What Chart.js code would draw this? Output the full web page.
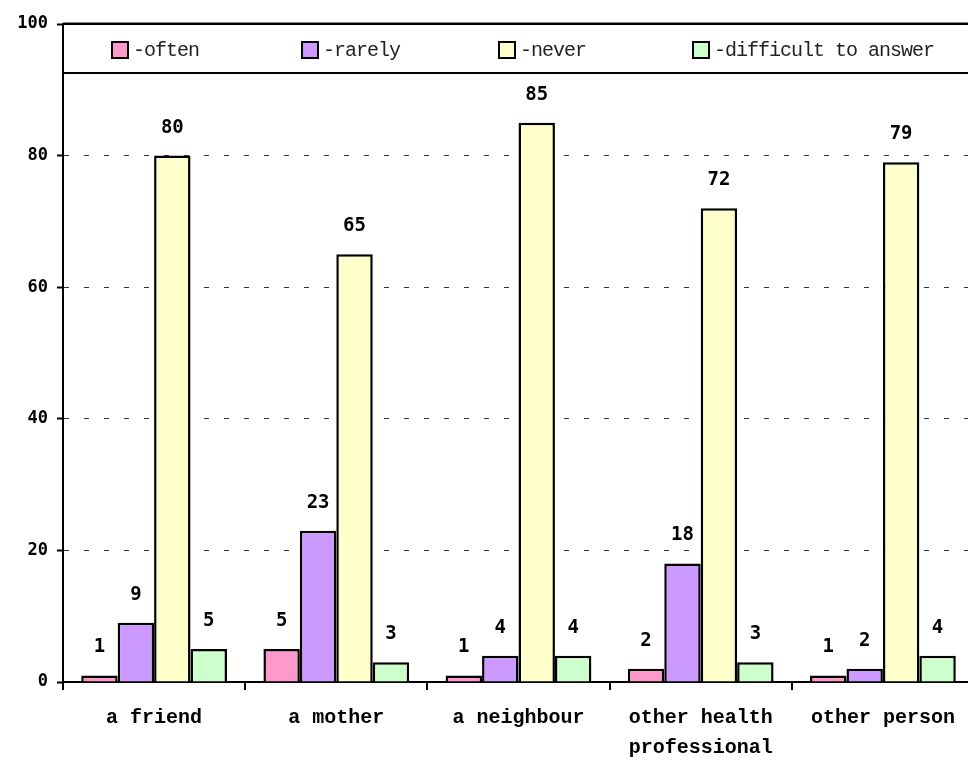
<!DOCTYPE html>
<html>
<head>
<meta charset="utf-8">
<script src="https://cdn.jsdelivr.net/npm/chart.js@4"></script>
<style>
  body { margin: 0; overflow: hidden; background: #fff; }
  canvas { display: block; }
</style>
</head>
<body>
<canvas id="myChart" width="976" height="761"></canvas>
<script>
//data
var categories = ['a friend', 'a mother', 'a neighbour', ['other health', 'professional'], 'other person'];
var seriesNames = ['-often', '-rarely', '-never', '-difficult to answer'];
var often = [1, 5, 1, 2, 1];
var rarely = [9, 23, 4, 18, 2];
var never = [80, 65, 85, 72, 79];
var difficult = [5, 3, 4, 3, 4];
var yTicks = [0, 20, 40, 60, 80, 100];

var colors = ['#FF99CC', '#CC99FF', '#FFFFCC', '#CCFFCC'];
var seriesValues = [often, rarely, never, difficult];

//values above the bars
const valueLabels = {
    id: 'valueLabels',
    afterDatasetsDraw(chart) {
        const ctx = chart.ctx;
        ctx.save();
        ctx.font = 'bold 19px "DejaVu Sans Mono"';
        ctx.fillStyle = '#000';
        ctx.textAlign = 'center';
        ctx.textBaseline = 'middle';
        chart.data.datasets.forEach((ds, i) => {
            chart.getDatasetMeta(i).data.forEach((bar, j) => {
                ctx.fillText(ds.data[j], bar.x, bar.y - 28);
            });
        });
        ctx.restore();
    }
};

//legend box sitting on top of the plot area
const boxLegend = {
    id: 'boxLegend',
    afterDraw(chart) {
        const ctx = chart.ctx;
        const area = chart.chartArea;
        const top = area.top;
        const h = 49;
        ctx.save();
        ctx.fillStyle = '#fff';
        ctx.fillRect(area.left, top, chart.width - area.left + 5, h);
        ctx.strokeStyle = '#000';
        ctx.lineWidth = 2;
        ctx.strokeRect(area.left, top, chart.width - area.left + 10, h);
        ctx.strokeStyle = '#888';
        ctx.lineWidth = 1;
        ctx.beginPath();
        ctx.moveTo(area.left, top - 1.5);
        ctx.lineTo(chart.width, top - 1.5);
        ctx.stroke();

        ctx.font = '20px "Liberation Mono"';
        ctx.letterSpacing = '-1px';
        ctx.textBaseline = 'middle';
        ctx.textAlign = 'left';
        const xs = [49, 239, 436, 630];
        chart.data.datasets.forEach((ds, i) => {
            const x = area.left + xs[i];
            const y = top + 18;
            ctx.fillStyle = ds.backgroundColor;
            ctx.fillRect(x, y, 16, 16);
            ctx.strokeStyle = '#000';
            ctx.lineWidth = 2;
            ctx.strokeRect(x, y, 16, 16);
            ctx.fillStyle = '#222';
            ctx.fillText(ds.label, x + 21, y + 9);
        });
        ctx.restore();
    }
};

function plot() {
    const ctx = document.getElementById('myChart').getContext('2d');

    const datasets = seriesNames.map((name, i) => ({
        label: name,
        data: seriesValues[i],
        backgroundColor: colors[i],
        borderColor: '#000',
        borderWidth: 2.5,
        borderSkipped: 'bottom',
        categoryPercentage: 0.8,
        barPercentage: 1.0
    }));

    new Chart(ctx, {
        type: 'bar',
        data: { labels: categories, datasets: datasets },
        options: {
            responsive: false,
            animation: false,
            layout: { padding: { top: 24, right: 2, left: 0, bottom: 0 } },
            plugins: {
                legend: { display: false },
                tooltip: { enabled: false }
            },
            scales: {
                x: {
                    grid: {
                        offset: true,
                        drawOnChartArea: false,
                        drawTicks: true,
                        tickLength: 8,
                        color: '#000',
                        lineWidth: 2
                    },
                    border: { color: '#000', width: 2 },
                    ticks: {
                        color: '#000',
                        padding: 13,
                        maxRotation: 0,
                        autoSkip: false,
                        font: { family: '"Liberation Mono"', size: 20, weight: 'bold', lineHeight: 1.5 }
                    },
                    afterFit(scale) { scale.height = 79; }
                },
                y: {
                    min: 0,
                    max: 100,
                    afterBuildTicks(scale) {
                        scale.ticks = yTicks.map(v => ({ value: v }));
                    },
                    grid: {
                        color: '#333',
                        lineWidth: 1,
                        tickLength: 6,
                        tickBorderDash: [],
                        tickColor: '#000',
                        tickWidth: 2
                    },
                    border: { color: '#000', width: 2, dash: [5, 15] },
                    ticks: {
                        color: '#000',
                        padding: 9,
                        font: { family: '"DejaVu Sans Mono"', size: 17, weight: 'bold' }
                    },
                    afterFit(scale) { scale.width = 63; }
                }
            }
        },
        plugins: [valueLabels, boxLegend]
    });
}

plot();
</script>
</body>
</html>
